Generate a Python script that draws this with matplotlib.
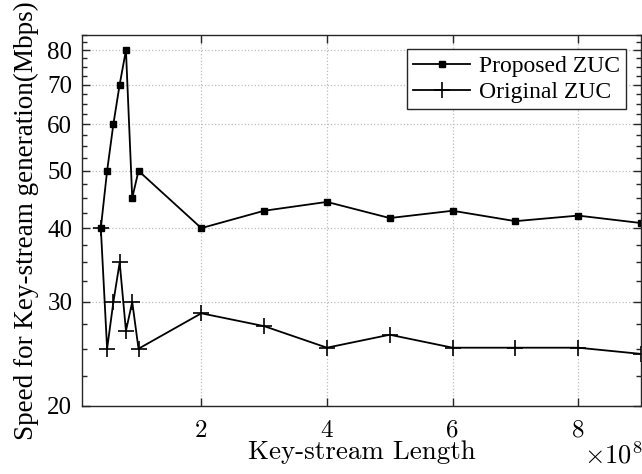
import numpy as np
import matplotlib
matplotlib.use('Agg')
import matplotlib.pyplot as plt
from matplotlib.ticker import FixedLocator, NullFormatter

plt.rcParams['mathtext.fontset'] = 'cm'
plt.rcParams['axes.formatter.use_mathtext'] = True

# key-stream length (units of 1e8)
length = [0.4, 0.5, 0.6, 0.7, 0.8, 0.9, 1.0, 2, 3, 4, 5, 6, 7, 8, 9]
proposed = [40, 50, 60, 70, 80, 45, 50, 40, 42.8, 44.3, 41.6, 42.8, 41.1, 42.0, 40.8]
original = [40, 25, 30, 35, 26.8, 30, 25, 28.7, 27.3, 25.1, 26.4, 25.1, 25.1, 25.1, 24.5]

yticks = [20, 30, 40, 50, 60, 70, 80]
xticks = [2, 4, 6, 8]

x = np.array(length) * 1e8

fig = plt.figure(figsize=(6.42, 4.74), dpi=100)
ax = fig.add_axes([0.1277, 0.1435, 0.8707, 0.7833])

ax.plot(x, proposed, '-', color='black', lw=1.3, marker='s', ms=4.5,
        label='Proposed ZUC')
ax.plot(x, original, '-', color='black', lw=1.3, marker='+', ms=11, mew=1.2,
        label='Original ZUC')

ax.set_yscale('log')
ax.set_ylim(20, 85)
ax.set_xlim(0.1e8, 9e8)

ax.yaxis.set_major_locator(FixedLocator(yticks))
ax.yaxis.set_minor_locator(FixedLocator(np.arange(20, 85.1, 2.5)))
ax.yaxis.set_minor_formatter(NullFormatter())
ax.set_yticklabels([str(t) for t in yticks], fontfamily='Liberation Serif', fontsize=18)

ax.set_xticks([t * 1e8 for t in xticks])
ax.set_xticklabels([str(t) for t in xticks], fontfamily='cmr10', fontsize=18)

ax.tick_params(which='both', direction='in', top=True, right=True, color='#262626')
ax.tick_params(which='major', length=6, width=1)
ax.tick_params(axis='y', which='major', pad=7)
ax.tick_params(axis='x', which='major', pad=10)
ax.tick_params(which='minor', length=3.5, width=1)
for s in ax.spines.values():
    s.set_color('#262626')
    s.set_linewidth(1)

ax.grid(True, which='major', ls=':', color='#bdbdbd', lw=0.9)

ax.set_xlabel('Key-stream Length', fontfamily='cmr10', fontsize=19.5, labelpad=-1)
ax.set_ylabel('Speed for Key-stream generation(Mbps)', fontfamily='Liberation Serif',
              fontsize=19.5, labelpad=6)
fig.text(1.0, 0.023, r'$\times10^8$', ha='right', va='baseline', fontsize=19)

leg = ax.legend(loc='upper right', prop={'family': 'Liberation Serif', 'size': 17},
                fancybox=False, framealpha=1, edgecolor='#262626',
                borderaxespad=0.62, handlelength=2.4, handletextpad=0.4,
                borderpad=0.25, labelspacing=0.2)
leg.get_frame().set_linewidth(1)

plt.savefig('out.png', dpi=100)
